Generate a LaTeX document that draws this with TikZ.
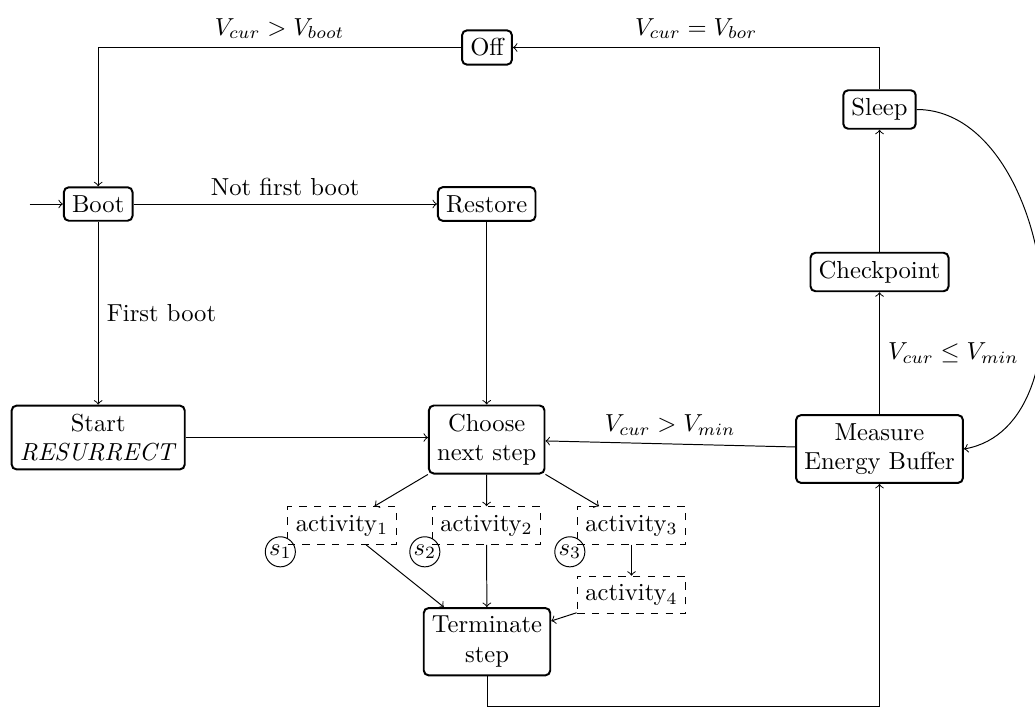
\documentclass[tikz,border=0pt]{standalone}
\begin{document}
\begin{tikzpicture}[x=0.4065pt,y=-0.4065pt,
  box/.style={draw,thick,rounded corners=2pt,align=center},
  act/.style={draw,dashed},
  badge/.style={draw,circle,inner sep=0.5pt},
  >=to]
\useasboundingbox (0,0) rectangle (1035,709);
\node[box] (off) at (487,47.5) {Off};
\node[box] (sleep) at (879.5,109.5) {Sleep};
\node[box] (boot) at (98.2,204) {Boot};
\node[box] (restore) at (486.7,204) {Restore};
\node[box] (ckpt) at (879.5,272) {Checkpoint};
\node[box] (start) at (98.2,437.5) {Start\\ \textit{RESURRECT}};
\node[box] (choose) at (486.7,439.5) {Choose\\next step};
\node[box] (meas) at (879.5,449) {Measure\\Energy Buffer};
\node[act] (a1) at (342,525.5) {activity$_1$};
\node[act] (a2) at (486.5,525.5) {activity$_2$};
\node[act] (a3) at (631.5,525.5) {activity$_3$};
\node[act] (a4) at (631.5,595) {activity$_4$};
\node[box] (term) at (487,641.7) {Terminate\\step};
\node[badge] (s1) at ([shift={(-6.8,7)}]a1.south west) {$s_1$};
\node[badge] (s2) at ([shift={(-6.8,7)}]a2.south west) {$s_2$};
\node[badge] (s3) at ([shift={(-6.8,7)}]a3.south west) {$s_3$};
\coordinate (entry) at (29.5,204);
\coordinate (low) at (487,706.7);

\draw[->] (entry) -- (boot);
\draw[->] (boot) -- node[above]{Not first boot} (restore);
\draw[->] (boot) -- node[right]{First boot} (start);
\draw[->] (restore) -- (choose);
\draw[->] (start.east) -- (start.east -| choose.west);
\draw[->] (meas) -- node[above]{$V_{cur} > V_{min}$} (choose);
\draw[->] (meas) -- node[right]{$V_{cur} \leq V_{min}$} (ckpt);
\draw[->] (ckpt) -- (sleep);
\draw[->] (sleep) |- node[pos=0.75,above]{$V_{cur} = V_{bor}$} (off);
\draw[->] (off) -| node[pos=0.25,above]{$V_{cur} > V_{boot}$} (boot);
\draw[->] (sleep.east) to[out=0,in=10] (meas.east);
\draw[->] (choose) -- (a1);
\draw[->] (choose) -- (a2);
\draw[->] (choose) -- (a3);
\draw[->] (a3) -- (a4);
\draw[->] (a1) -- (term);
\draw[->] (a2) -- (term);
\draw[->] (a4) -- (term);
\draw[->] (term.south) -- (low) -| (meas.south);
\end{tikzpicture}
\end{document}
